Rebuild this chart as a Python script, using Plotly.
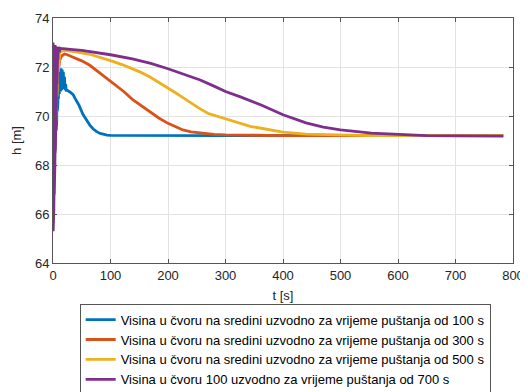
import plotly.graph_objects as go

# ---- data ----
names = [
    "Visina u čvoru na sredini uzvodno za vrijeme puštanja od 100 s",
    "Visina u čvoru na sredini uzvodno za vrijeme puštanja od 300 s",
    "Visina u čvoru na sredini uzvodno za vrijeme puštanja od 500 s",
    "Visina u čvoru 100 uzvodno za vrijeme puštanja od 700 s",
]
colors = ["#0072BD", "#D95319", "#EDB120", "#7E2F8E"]

t_blue = [0, 0.4, 0.8, 1.2, 1.6, 2.0, 2.4, 2.8, 3.2, 3.6,
          4.0, 4.5, 5, 5.5, 6, 6.5, 7, 7.5, 8, 8.5,
          9, 9.5, 10, 11, 12, 13, 14, 15, 16, 17,
          18, 19, 20, 21, 22, 23, 25, 30, 35, 40,
          45, 52, 58, 64, 70, 76, 82, 88, 94, 100,
          150, 200, 300, 400, 500, 600, 700, 783]
h_blue = [72.9, 67.7, 72.5, 67.8, 72.3, 68.0, 72.2, 68.2, 72.0, 68.5,
          71.9, 68.9, 71.8, 69.4, 71.7, 69.8, 71.6, 70.2, 71.6, 70.5,
          71.7, 70.7, 71.8, 70.9, 71.9, 71.0, 71.95, 71.05, 71.9, 71.1,
          71.8, 71.1, 71.6, 71.05, 71.3, 71.05, 71.05, 70.97, 70.87, 70.65,
          70.45, 70.07, 69.83, 69.63, 69.47, 69.36, 69.29, 69.25, 69.22, 69.21,
          69.2, 69.2, 69.2, 69.2, 69.2, 69.2, 69.2, 69.2]

t_orange = [0, 0.5, 1, 1.5, 2, 2.5, 3, 3.5, 4, 5,
            6, 7, 8, 9, 12, 15, 20, 25, 35, 50,
            64, 79, 93, 109, 123, 138, 153, 168, 184, 200,
            213, 226, 240, 256, 280, 300, 350, 400, 500, 600,
            700, 783]
h_orange = [72.9, 66.0, 72.8, 67.0, 72.7, 68.0, 72.6, 69.0, 72.5, 70.0,
            72.4, 71.0, 72.3, 71.8, 72.3, 72.45, 72.53, 72.5, 72.4, 72.25,
            72.07, 71.8, 71.55, 71.28, 71.0, 70.68, 70.42, 70.16, 69.92, 69.7,
            69.55, 69.43, 69.35, 69.3, 69.25, 69.23, 69.21, 69.2, 69.2, 69.2,
            69.2, 69.2]

t_yellow = [0, 0.5, 1, 1.5, 2, 2.5, 3, 3.5, 4, 5,
            6, 7, 8, 9, 12, 15, 20, 25, 40, 64,
            79, 100, 120, 138, 153, 168, 184, 200, 213, 226,
            240, 256, 270, 290, 300, 326, 343, 362, 400, 440,
            500, 550, 600, 700, 783]
h_yellow = [72.95, 65.8, 72.85, 66.8, 72.75, 67.8, 72.7, 68.8, 72.7, 69.8,
            72.65, 70.8, 72.6, 71.8, 72.6, 72.65, 72.68, 72.67, 72.62, 72.52,
            72.42, 72.26, 72.1, 71.93, 71.78, 71.6, 71.38, 71.15, 70.95, 70.75,
            70.52, 70.29, 70.1, 69.95, 69.88, 69.7, 69.58, 69.5, 69.34, 69.26,
            69.22, 69.2, 69.2, 69.2, 69.2]

t_purple = [0, 0.3, 0.6, 0.9, 1.2, 1.5, 1.8, 2.1, 2.4, 2.7,
            3.0, 3.3, 3.6, 3.9, 4.2, 4.5, 4.8, 5.1, 5.4, 5.7,
            6.0, 6.3, 6.6, 6.9, 7.2, 7.5, 7.8, 8.1, 8.4, 8.7,
            9.0, 9.5, 10, 11, 12, 14, 17, 20, 30, 50,
            79, 100, 138, 170, 200, 230, 256, 280, 300, 326,
            362, 400, 440, 470, 500, 554, 600, 650, 700, 783]
h_purple = [73.0, 65.3, 72.9, 65.6, 72.95, 66.2, 72.9, 66.8, 72.9, 67.5,
            72.9, 68.0, 72.9, 68.6, 72.85, 69.2, 72.85, 69.8, 72.85, 70.3,
            72.8, 70.8, 72.8, 71.3, 72.8, 71.7, 72.8, 72.0, 72.8, 72.3,
            72.8, 72.5, 72.78, 72.6, 72.77, 72.76, 72.75, 72.74, 72.72, 72.68,
            72.59, 72.5, 72.33, 72.15, 71.93, 71.7, 71.47, 71.22, 71.0, 70.78,
            70.45, 70.05, 69.72, 69.55, 69.43, 69.3, 69.24, 69.2, 69.19, 69.18]

x_ticks = [0, 100, 200, 300, 400, 500, 600, 700, 800]
y_ticks = [64, 66, 68, 70, 72, 74]

series = [(t_blue, h_blue), (t_orange, h_orange), (t_yellow, h_yellow), (t_purple, h_purple)]

fig = go.Figure()
for (tt, hh), nm, c in zip(series, names, colors):
    fig.add_trace(go.Scatter(x=tt, y=hh, mode="lines", name=nm,
                             line=dict(color=c, width=2.8)))

axis_common = dict(
    showline=True, linecolor="#555555", linewidth=1, mirror="ticks",
    ticks="inside", ticklen=4, tickcolor="#555555",
    showgrid=True, gridcolor="#E3E3E3", gridwidth=1,
    zeroline=False, tickfont=dict(size=13, color="#262626"),
    automargin=False,
)

# the page body adds an 8 px offset, so the figure is 520x384
fig.update_layout(
    width=520, height=384,
    margin=dict(l=45, r=15, t=10, b=129, autoexpand=False),
    paper_bgcolor="white", plot_bgcolor="white",
    font=dict(family="Liberation Sans, Arial, sans-serif", color="#262626"),
    xaxis=dict(range=[0, 800], tickvals=x_ticks,
               title=dict(text="t [s]", font=dict(size=13), standoff=9),
               **axis_common),
    yaxis=dict(range=[64, 74], tickvals=y_ticks,
               title=dict(text="h [m]", font=dict(size=13), standoff=10),
               **axis_common),
    legend=dict(x=0.058, y=-0.166, xanchor="left", yanchor="top",
                bordercolor="#555555", borderwidth=1, bgcolor="white",
                font=dict(size=13, color="#000000"), tracegroupgap=0,
                itemwidth=30),
    showlegend=True,
)

fig.write_html("out.html")
